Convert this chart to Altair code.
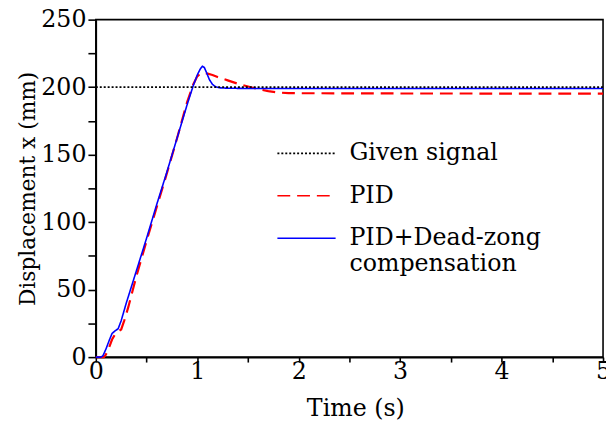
import altair as alt
import pandas as pd

# ---- data ----
S_GIVEN = "Given signal"
S_PID = "PID"
S_DZ = "PID+Dead-zong|compensation"   # '|' = line break in the legend label
series_order = [S_GIVEN, S_PID, S_DZ]

t_given = [0.0, 5.0]
v_given = [200.0, 200.0]

t_pid = [0, 0.08, 0.10, 0.13, 0.16, 0.19, 0.22, 0.25, 0.28, 0.32, 0.40, 0.50, 0.60,
         0.70, 0.80, 0.90, 0.96, 1.00, 1.04, 1.08, 1.15, 1.20, 1.30, 1.40, 1.50, 1.60,
         1.70, 1.80, 1.90, 2.0, 2.5, 3.0, 3.5, 4.0, 4.5, 5.0]
v_pid = [0, 0, 2, 7, 13, 17, 19, 20.5, 27, 37, 60, 86, 111,
         136, 162, 189, 202, 208, 210.5, 210.5, 209, 207.5, 205, 202.5, 200.5, 198.5,
         197, 196, 195.6, 195.5, 195.4, 195.3, 195.3, 195.2, 195.2, 195.2]

t_dz = [0, 0.05, 0.07, 0.10, 0.13, 0.16, 0.19, 0.22, 0.25, 0.30, 0.40, 0.50, 0.60,
        0.70, 0.80, 0.90, 0.96, 1.00, 1.03, 1.05, 1.07, 1.09, 1.12, 1.15, 1.18, 1.22,
        1.30, 1.50, 2.0, 2.5, 3.0, 3.5, 4.0, 4.5, 5.0]
v_dz = [0, 0, 1, 6, 12, 17.5, 19.5, 21, 27, 40, 64, 88, 113,
        137, 162, 187, 201, 209, 213.5, 215.5, 214.5, 211, 205.5, 202, 200.3, 199.5,
        199.2, 199, 199, 199, 199, 199, 199, 199, 199]

x_ticks = [0, 0.5, 1, 1.5, 2, 2.5, 3, 3.5, 4, 4.5, 5]
y_ticks = [0, 25, 50, 75, 100, 125, 150, 175, 200, 225, 250]

colors = ["#000000", "#ff0000", "#0000ff"]
dashes = [[2, 2], [13, 7], [1, 0]]

df = pd.concat([
    pd.DataFrame({"t": t_given, "v": v_given, "series": S_GIVEN}),
    pd.DataFrame({"t": t_pid, "v": v_pid, "series": S_PID}),
    pd.DataFrame({"t": t_dz, "v": v_dz, "series": S_DZ}),
], ignore_index=True)

FONT = "DejaVu Serif"
TICK_FS = 24
TEXT_FS = 24
YTITLE_FS = 22

x_enc = alt.X(
    "t:Q",
    scale=alt.Scale(domain=[0, 5], nice=False, zero=False),
    axis=alt.Axis(
        values=x_ticks,
        labelExpr="datum.value % 1 == 0 ? format(datum.value, 'd') : ''",
        title="Time (s)",
        titleFont=FONT,
        titleFontSize=TEXT_FS,
        labelFont=FONT,
        grid=False,
        tickSize=5,
        labelPadding=17,
        labelBaseline="alphabetic",
        labelFlush=False,
        labelOverlap=False,
        titleX=263,
        titleY=59,
        titleBaseline="alphabetic",
        titleAlign="center",
    ),
)
y_enc = alt.Y(
    "v:Q",
    scale=alt.Scale(domain=[0, 250], nice=False, zero=False),
    axis=alt.Axis(
        values=y_ticks,
        labelExpr="datum.value % 50 == 0 ? format(datum.value, 'd') : ''",
        title="Displacement x (mm)",
        titleFont=FONT,
        titleFontSize=YTITLE_FS,
        labelFont=FONT,
        grid=False,
        tickSize=8,
        labelPadding=2,
        labelFlush=False,
        labelOverlap=False,
        titleX=-62,
        titleY=171,
        titleAngle=270,
        titleBaseline="alphabetic",
        titleAlign="center",
    ),
)
color_enc = alt.Color(
    "series:N",
    scale=alt.Scale(domain=series_order, range=colors),
    title=None,
    legend=alt.Legend(
        orient="none",
        legendX=183,
        legendY=105,
        symbolType="stroke",
        symbolSize=3481,
        symbolStrokeWidth=1.6,
        labelOffset=13,
        labelFont=FONT,
        labelFontSize=TEXT_FS,
        labelColor="black",
        labelLimit=500,
        rowPadding=-4,
        labelExpr="split(datum.label, '|')",
    ),
)
dash_enc = alt.StrokeDash(
    "series:N",
    scale=alt.Scale(domain=series_order, range=dashes),
    title=None,
)

base = alt.Chart(df).encode(x=x_enc, y=y_enc, color=color_enc, strokeDash=dash_enc)

red = base.transform_filter(alt.datum.series == S_PID).mark_line(strokeWidth=2.2)
blue = base.transform_filter(alt.datum.series == S_DZ).mark_line(strokeWidth=1.6)
black = base.transform_filter(alt.datum.series == S_GIVEN).mark_line(strokeWidth=1.6)

chart = alt.layer(red, blue, black).properties(
    width=514,
    height=342,
    autosize=alt.AutoSizeParams(type="none"),
    padding={"left": 89, "top": 9, "right": 3, "bottom": 66},
).configure(
    font=FONT
).configure_view(
    stroke="black", strokeWidth=1.6
).configure_axis(
    domainColor="black", domainWidth=1.6,
    tickColor="black", tickWidth=1.6,
    labelFont=FONT, labelFontSize=TICK_FS, labelColor="black",
    titleFont=FONT, titleFontSize=TEXT_FS, titleColor="black", titleFontWeight="normal",
)

chart.save("out.html", embed_options={"renderer": "svg", "actions": False})
